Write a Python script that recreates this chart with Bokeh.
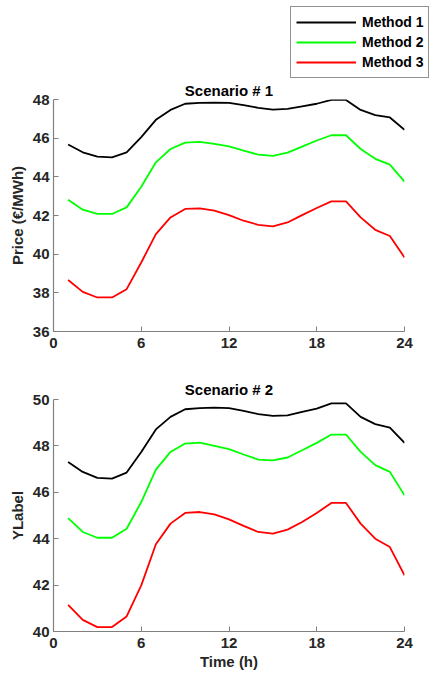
from bokeh.plotting import figure
from bokeh.models import Range1d, FixedTicker, Legend, LegendItem
from bokeh.embed import file_html
from bokeh.resources import INLINE

hours = list(range(1, 25))

s1_m1 = [45.67, 45.27, 45.05, 45.01, 45.27, 46.05, 46.95, 47.46, 47.78, 47.83, 47.84, 47.83,
         47.71, 47.57, 47.48, 47.52, 47.65, 47.78, 47.98, 47.98, 47.46, 47.19, 47.07, 46.43]
s1_m2 = [42.82, 42.30, 42.08, 42.08, 42.42, 43.49, 44.75, 45.44, 45.77, 45.81, 45.70, 45.58,
         45.36, 45.15, 45.08, 45.25, 45.56, 45.88, 46.15, 46.15, 45.44, 44.93, 44.63, 43.75]
s1_m3 = [38.66, 38.05, 37.76, 37.76, 38.19, 39.57, 41.04, 41.90, 42.34, 42.37, 42.25, 42.02,
         41.73, 41.52, 41.44, 41.64, 42.02, 42.39, 42.73, 42.73, 41.90, 41.26, 40.94, 39.83]

s2_m1 = [47.31, 46.88, 46.62, 46.59, 46.85, 47.74, 48.71, 49.25, 49.58, 49.63, 49.65, 49.63,
         49.51, 49.37, 49.29, 49.32, 49.47, 49.61, 49.83, 49.83, 49.25, 48.94, 48.79, 48.13]
s2_m2 = [44.89, 44.29, 44.04, 44.04, 44.43, 45.58, 46.98, 47.74, 48.10, 48.14, 48.00, 47.86,
         47.63, 47.41, 47.38, 47.50, 47.81, 48.13, 48.49, 48.49, 47.74, 47.17, 46.88, 45.87]
s2_m3 = [41.15, 40.50, 40.19, 40.19, 40.65, 41.99, 43.76, 44.65, 45.11, 45.15, 45.05, 44.83,
         44.55, 44.29, 44.22, 44.39, 44.72, 45.11, 45.54, 45.54, 44.65, 44.00, 43.64, 42.42]

methods = ["Method 1", "Method 2", "Method 3"]
colors = ["#000000", "#00FF00", "#FF0000"]
x_ticks = [0, 6, 12, 18, 24]
y1_ticks = [36, 38, 40, 42, 44, 46, 48]
y2_ticks = [40, 42, 44, 46, 48, 50]

FONT = "Liberation Sans"
TXT = "#262626"
AX = "#808080"
W = 434
LW = 1.8


def make_fig(height, top, bottom, yr, yticks, title, ylabel, xlabel, standoff):
    p = figure(width=W, height=height, output_backend="svg", toolbar_location=None,
               x_range=Range1d(0, 24), y_range=Range1d(*yr),
               min_border_left=53, min_border_right=W - 404,
               min_border_top=top, min_border_bottom=bottom, title=title)
    p.outline_line_color = None
    p.grid.visible = False
    p.title.align = "center"
    p.title.text_font = FONT
    p.title.text_font_size = "15px"
    p.title.text_font_style = "bold"
    p.title.text_color = "#000000"
    p.title.standoff = standoff
    p.xaxis.ticker = FixedTicker(ticks=x_ticks)
    p.yaxis.ticker = FixedTicker(ticks=yticks)
    for ax in (p.xaxis[0], p.yaxis[0]):
        ax.axis_line_color = AX
        ax.axis_line_width = 1.2
        ax.major_tick_line_color = AX
        ax.major_tick_in = 5
        ax.major_tick_out = 0
        ax.minor_tick_line_color = None
        ax.major_label_text_font = FONT
        ax.major_label_text_font_size = "15px"
        ax.major_label_text_font_style = "bold"
        ax.major_label_text_color = TXT
        ax.axis_label_text_font = FONT
        ax.axis_label_text_font_size = "15px"
        ax.axis_label_text_font_style = "bold"
        ax.axis_label_text_color = TXT
    p.yaxis.major_label_standoff = 4
    p.yaxis.axis_label_standoff = 4
    p.xaxis.major_label_standoff = 6
    p.xaxis.axis_label_standoff = 2
    p.yaxis.axis_label = ylabel
    if xlabel:
        p.xaxis.axis_label = xlabel
    return p


# legend strip on top (its own root, so its frame spans the full width)
pl = figure(width=W, height=78, output_backend="svg", toolbar_location=None,
            x_range=Range1d(0, 1), y_range=Range1d(0, 1), min_border=0,
            x_axis_type=None, y_axis_type=None)
pl.grid.visible = False
pl.outline_line_color = None
# single-point lines (draw nothing themselves) that give the legend its swatches
lrs = [pl.line(hours[:1], ys[:1], line_color=c, line_width=LW)
       for ys, c in zip([s1_m1, s1_m2, s1_m3], colors)]
legend = Legend(items=[LegendItem(label=m, renderers=[r]) for m, r in zip(methods, lrs)],
                location=(290, 0), glyph_width=60, glyph_height=20, label_height=20,
                spacing=0, padding=5, margin=0, label_standoff=6,
                border_line_color="#262626", border_line_width=1,
                label_text_font=FONT, label_text_font_size="14px",
                label_text_font_style="bold", label_text_color="#000000",
                background_fill_color="white", background_fill_alpha=1.0)
pl.add_layout(legend)

p1 = make_fig(280, 21, 27, (36, 48), y1_ticks, "Scenario # 1", "Price (€/MWh)", None, 1)
for ys, c in zip([s1_m1, s1_m2, s1_m3], colors):
    p1.line(hours, ys, line_color=c, line_width=LW)

p2 = make_fig(317, 41, 44, (40, 50), y2_ticks, "Scenario # 2", "YLabel", "Time (h)", 4)
for ys, c in zip([s2_m1, s2_m2, s2_m3], colors):
    p2.line(hours, ys, line_color=c, line_width=LW)

open("out.html", "w").write(file_html([pl, p1, p2], INLINE))
